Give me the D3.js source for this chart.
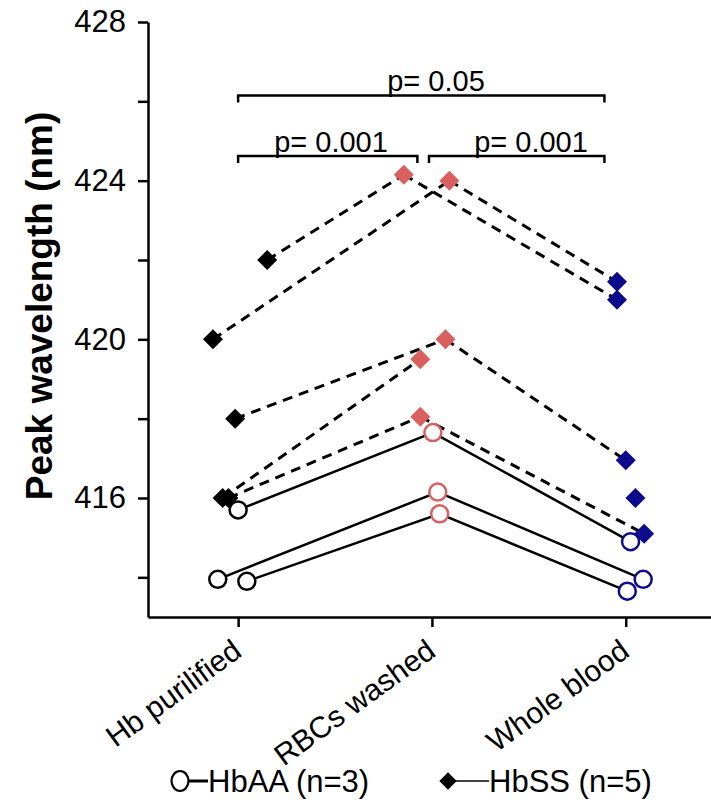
<!DOCTYPE html>
<html>
<head>
<meta charset="utf-8">
<script src="https://cdn.jsdelivr.net/npm/d3@7"></script>
<style>
  body { margin: 0; background: #fff; }
  svg { font-family: "Liberation Sans", Arial, Helvetica, sans-serif; }
</style>
</head>
<body>
<svg width="711" height="803"></svg>
<script>
// categories on the x axis
const categories = ['Hb purilified', 'RBCs washed', 'Whole blood'];

// HbAA subjects, one row per subject: [purified, RBCs washed, whole blood]
const hbaaValues = [
    [415.7, 417.65, 414.9],
    [413.95, 416.15, 413.95],
    [413.9, 415.6, 413.65]
];

// HbSS subjects
const hbssValues = [
    [422.0, 424.15, 421.0],
    [420.0, 424.0, 421.45],
    [418.0, 420.0, 416.95],
    [416.0, 419.5, 416.0],
    [416.0, 418.05, 415.1]
];

// which HbSS segments are joined (purified->RBC, RBC->whole)
const hbssLinked = [
    [true, true],
    [true, true],
    [true, true],
    [true, false],
    [true, true]
];

// horizontal spread of the points, in category units
const hbaaJitter = [
    [0, 0.005, 0.025],
    [-0.105, 0.03, 0.09],
    [0.045, 0.04, 0.008]
];
const hbssJitter = [
    [0.15, -0.145, -0.045],
    [-0.13, 0.09, -0.045],
    [-0.015, 0.07, 0],
    [-0.08, -0.06, 0.05],
    [-0.05, -0.06, 0.095]
];

const yTicks = [414, 416, 418, 420, 422, 424, 426, 428];
const yLabels = [416, 420, 424, 428];
const pLabels = ['p= 0.05', 'p= 0.001', 'p= 0.001'];
const legendLabels = ['HbAA (n=3)', 'HbSS (n=5)'];

const catColors = ['#000000', '#d9605f', '#0b0b8c'];

const svg = d3.select('svg');

const x = d3.scaleLinear()
    .domain([-0.465, 2.44])
    .range([148, 711]);

const y = d3.scaleLinear()
    .domain([413, 428])
    .range([617, 22]);

// axes
const yAxis = d3.axisLeft(y)
    .tickValues(yTicks)
    .tickSize(10)
    .tickSizeOuter(0)
    .tickPadding(12)
    .tickFormat(d => yLabels.includes(d) ? d : '');

svg.append('g')
    .attr('class', 'y-axis')
    .attr('transform', 'translate(148,0)')
    .call(yAxis);

const xAxis = d3.axisBottom(x)
    .tickValues([0, 1, 2])
    .tickSize(10)
    .tickSizeOuter(0)
    .tickFormat(i => categories[i]);

svg.append('g')
    .attr('class', 'x-axis')
    .attr('transform', 'translate(0,617)')
    .call(xAxis);

svg.selectAll('.domain, .tick line')
    .attr('stroke', '#000')
    .attr('stroke-width', 2.5);

svg.selectAll('.y-axis text')
    .attr('font-size', 31)
    .attr('fill', '#000');

svg.selectAll('.x-axis text')
    .attr('font-size', 30)
    .attr('fill', '#000')
    .attr('text-anchor', 'end')
    .attr('x', 0)
    .attr('y', 0)
    .attr('dy', 0)
    .attr('transform', 'translate(5,38) rotate(-36)');

svg.append('text')
    .attr('transform', 'translate(52,306) rotate(-90)')
    .attr('text-anchor', 'middle')
    .attr('font-size', 37)
    .attr('font-weight', 'bold')
    .text('Peak wavelength (nm)');

// connecting lines
const px = (jit, i) => x(i + jit[i]);

hbssValues.forEach((vals, s) => {
    for (let i = 0; i < 2; i++) {
        if (!hbssLinked[s][i]) continue;
        svg.append('line')
            .attr('x1', px(hbssJitter[s], i))
            .attr('y1', y(vals[i]))
            .attr('x2', px(hbssJitter[s], i + 1))
            .attr('y2', y(vals[i + 1]))
            .attr('stroke', '#000')
            .attr('stroke-width', 3)
            .attr('stroke-dasharray', '10,7');
    }
});

const line = d3.line()
    .x(d => d[0])
    .y(d => d[1]);

hbaaValues.forEach((vals, s) => {
    svg.append('path')
        .datum(vals.map((v, i) => [px(hbaaJitter[s], i), y(v)]))
        .attr('fill', 'none')
        .attr('stroke', '#000')
        .attr('stroke-width', 2.5)
        .attr('d', line);
});

// markers
const diamond = d3.symbol().type(d3.symbolSquare).size(200);

hbssValues.forEach((vals, s) => {
    svg.selectAll(null)
        .data(vals)
        .join('path')
        .attr('d', diamond)
        .attr('transform', (v, i) => `translate(${px(hbssJitter[s], i)},${y(v)}) rotate(45)`)
        .attr('fill', (v, i) => catColors[i]);
});

hbaaValues.forEach((vals, s) => {
    svg.selectAll(null)
        .data(vals)
        .join('circle')
        .attr('cx', (v, i) => px(hbaaJitter[s], i))
        .attr('cy', v => y(v))
        .attr('r', 8.5)
        .attr('fill', '#fff')
        .attr('stroke', (v, i) => catColors[i])
        .attr('stroke-width', 2.5);
});

// significance brackets
const brackets = [
    { from: 0, to: 1.89, level: 426.15, tx: 436 },
    { from: 0, to: 0.925, level: 424.62, tx: 331 },
    { from: 0.985, to: 1.89, level: 424.62, tx: 531 }
];

brackets.forEach((b, k) => {
    const by = y(b.level);
    svg.append('path')
        .attr('d', `M${x(b.from)},${by + 7}V${by}H${x(b.to)}V${by + 7}`)
        .attr('fill', 'none')
        .attr('stroke', '#000')
        .attr('stroke-width', 2.5);
    svg.append('text')
        .attr('x', b.tx)
        .attr('y', by - 4)
        .attr('text-anchor', 'middle')
        .attr('font-size', 29)
        .text(pLabels[k]);
});

// legend
const legend = svg.append('g').attr('transform', 'translate(0,781)');

legend.append('ellipse')
    .attr('cx', 180)
    .attr('cy', 0)
    .attr('rx', 8.5)
    .attr('ry', 10)
    .attr('fill', 'none')
    .attr('stroke', '#000')
    .attr('stroke-width', 2.2);

legend.append('line')
    .attr('x1', 189).attr('x2', 208)
    .attr('stroke', '#000')
    .attr('stroke-width', 3);

legend.append('text')
    .attr('x', 208)
    .attr('y', 11)
    .attr('font-size', 31)
    .text(legendLabels[0]);

legend.append('path')
    .attr('d', d3.symbol().type(d3.symbolSquare).size(150))
    .attr('transform', 'translate(448,0) rotate(45)')
    .attr('fill', '#000');

legend.append('line')
    .attr('x1', 455).attr('x2', 489)
    .attr('stroke', '#000')
    .attr('stroke-width', 1.5);

legend.append('text')
    .attr('x', 489)
    .attr('y', 11)
    .attr('font-size', 31)
    .text(legendLabels[1]);
</script>
</body>
</html>
